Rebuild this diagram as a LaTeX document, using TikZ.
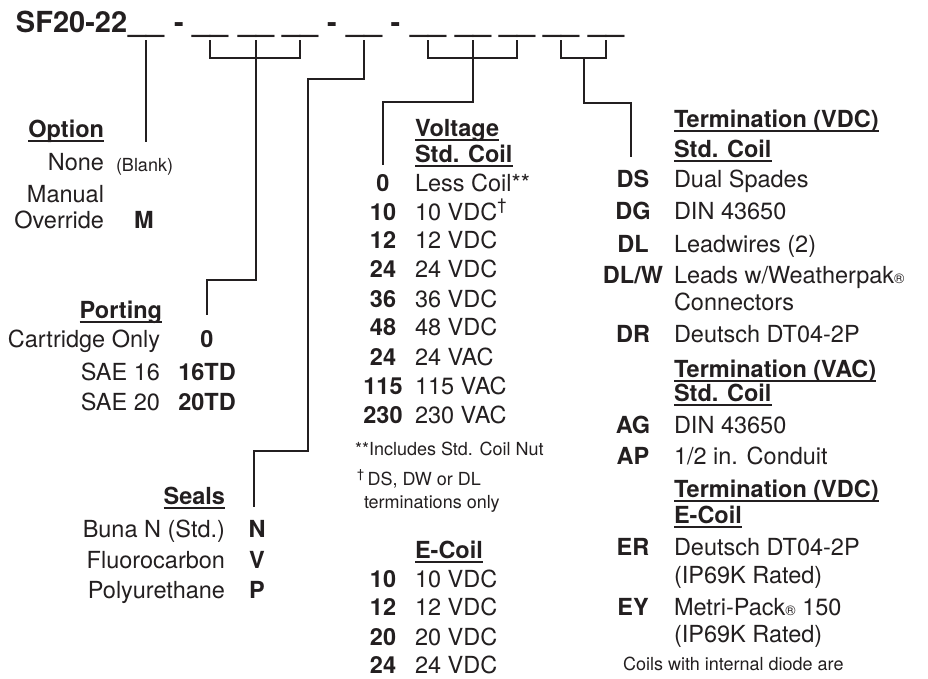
\documentclass[tikz,border=0pt]{standalone}
\usepackage{fontspec}
\setmainfont{TeX Gyre Heros}
\definecolor{ink}{HTML}{231F20}
\begin{document}
\begin{tikzpicture}[x=1pt,y=-1pt,
  every node/.style={inner sep=0pt,outer sep=0pt,text=ink},
  reg/.style={font=\fontsize{23.5}{28}\selectfont},
  hd/.style={font=\fontsize{23.5}{28}\selectfont\bfseries},
  code/.style={font=\fontsize{23.5}{28}\selectfont\bfseries,anchor=base},
  sm/.style={font=\fontsize{18}{21}\selectfont},
  ttl/.style={font=\fontsize{29}{34}\selectfont\bfseries},
  us/.style={font=\fontsize{32}{34}\selectfont\bfseries,anchor=base},
  L/.style={anchor=base west},
  R/.style={anchor=base east},
  wire/.style={draw=ink,line width=1.3pt},
  ul/.style={draw=ink,line width=1.3pt}]
\useasboundingbox[fill=white] (0,0) rectangle (928,678);

% ---------- model code ----------
\node[ttl,L] (title) at (16,32) {SF20-22};
\foreach \i/\x in {1/146,2/210,3/256,4/300,5/364,6/428,7/473,8/517,9/561,10/606}
  \node[us] (u\i) at (\x,31) {\_\_};
\node[ttl,anchor=base] (d1) at (179,32) {-};
\node[ttl,anchor=base] (d2) at (332,32) {-};
\node[ttl,anchor=base] (d3) at (395.5,32) {-};

\coordinate (top) at (0,40);
\coordinate (bar) at (0,58);

% ---------- Option ----------
\node[hd,R] (opt) at (104,137) {Option};
\draw[ul] ([yshift=-4pt]opt.base west) -- ([yshift=-4pt]opt.base east);
\node[reg,R] (o1) at (104,170) {None};
\node[sm,L] (o1b) at (116,171) {(Blank)};
\node[reg,R] (o2) at (104,202) {Manual};
\node[reg,R] (o3) at (104,228) {Override};
\node[code] (o3c) at (144,228) {M};
\draw[wire] (u1 |- top) -- (u1 |- opt.south);

% ---------- Porting ----------
\node[hd,R] (port) at (162,318) {Porting};
\draw[ul] ([yshift=-4pt]port.base west) -- ([yshift=-4pt]port.base east);
\node[reg,R] (p1) at (160,347) {Cartridge Only};
\node[code] (p1c) at (207,347) {0};
\node[reg,R] (p2) at (160,380) {SAE 16};
\node[code] (p2c) at (207,380) {16TD};
\node[reg,R] (p3) at (160,410) {SAE 20};
\node[code] (p3c) at (207,410) {20TD};
\coordinate (pEnd) at (207,315);
\draw[wire] (u2 |- top) -- (u2 |- bar) -- (u4 |- bar) -- (u4 |- top);
\draw[wire] (u3 |- top) -- (u3 |- 0,280) -- (pEnd |- 0,280) -- (pEnd);

% ---------- Seals ----------
\node[hd,R] (seal) at (225,504) {Seals};
\draw[ul] ([yshift=-4pt]seal.base west) -- ([yshift=-4pt]seal.base east);
\node[reg,R] (s1) at (225,537) {Buna N (Std.)};
\node[code] (s1c) at (257,537) {N};
\node[reg,R] (s2) at (225,568) {Fluorocarbon};
\node[code] (s2c) at (257,568) {V};
\node[reg,R] (s3) at (225,598) {Polyurethane};
\node[code] (s3c) at (257,598) {P};
\coordinate (sEnd) at (254,507);
\draw[wire] (u5 |- top) -- (u5 |- 0,79) -- (308,79) -- (308,451) -- (sEnd |- 0,451) -- (sEnd);

% ---------- Voltage ----------
\node[hd,L] (volt) at (415,136) {Voltage};
\draw[ul] ([yshift=-4pt]volt.base west) -- ([yshift=-4pt]volt.base east);
\node[hd,L] (vstd) at (415,162) {Std. Coil};
\draw[ul] ([yshift=-4pt]vstd.base west) -- ([yshift=-4pt]vstd.base east);
\foreach \i/\c/\t/\y in {1/0/{Less Coil**}/191,
    2/10/{10 VDC\textsuperscript{†}}/220,
    3/12/{12 VDC}/248, 4/24/{24 VDC}/277, 5/36/{36 VDC}/307,
    6/48/{48 VDC}/335, 7/24/{24 VAC}/365, 8/115/{115 VAC}/394,
    9/230/{230 VAC}/423}{
  \node[code] (vc\i) at (383,\y) {\c};
  \node[reg,L] (vt\i) at (415,\y) {\t};
}
\node[sm,L] (fn1) at (355,455) {**Includes Std. Coil Nut};
\node[sm,L] (fn2) at (357,485) {\textsuperscript{†}\,DS, DW or DL};
\node[sm,L] (fn3) at (364,508) {terminations only};
\coordinate (vEnd) at (383,165);
\draw[wire] (u6 |- top) -- (u6 |- bar) -- (u8 |- bar) -- (u8 |- top);
\draw[wire] (u7 |- top) -- (u7 |- 0,102) -- (vEnd |- 0,102) -- (vEnd);

% ---------- E-Coil ----------
\node[hd,L] (ecoil) at (415,558) {E-Coil};
\draw[ul] ([yshift=-4pt]ecoil.base west) -- ([yshift=-4pt]ecoil.base east);
\foreach \i/\c/\y in {1/10/587, 2/12/615, 3/20/645, 4/24/673}{
  \node[code] (ec\i) at (383,\y) {\c};
  \node[reg,L] (et\i) at (415,\y) {\c{} VDC};
}

% ---------- Termination ----------
\node[hd,L] (t1h) at (674,127) {Termination (VDC)\ };
\draw[ul] ([yshift=-4pt]t1h.base west) -- ([yshift=-4pt]t1h.base east);
\node[hd,L] (t1s) at (674,157) {Std. Coil};
\draw[ul] ([yshift=-4pt]t1s.base west) -- ([yshift=-4pt]t1s.base east);
\node[code] (tc1) at (633,187) {DS};
\node[reg,L] (tt1) at (674,187) {Dual Spades};
\node[code] (tc2) at (633,219) {DG};
\node[reg,L] (tt2) at (674,219) {DIN 43650};
\node[code] (tc3) at (633,252) {DL};
\node[reg,L] (tt3) at (674,252) {Leadwires (2)};
\node[code] (tc4) at (633,283) {DL/W};
\node[reg,L] (tt4) at (674,283) {Leads w/Weatherpak{\fontsize{14}{14}\selectfont ®}};
\node[reg,L] (tt4b) at (674,310) {Connectors};
\node[code] (tc5) at (633,342) {DR};
\node[reg,L] (tt5) at (674,342) {Deutsch DT04-2P};

\node[hd,L] (t2h) at (674,377) {Termination (VAC)\ };
\draw[ul] ([yshift=-4pt]t2h.base west) -- ([yshift=-4pt]t2h.base east);
\node[hd,L] (t2s) at (674,401) {Std. Coil\ };
\draw[ul] ([yshift=-4pt]t2s.base west) -- ([yshift=-4pt]t2s.base east);
\node[code] (tc6) at (633,433) {AG};
\node[reg,L] (tt6) at (674,433) {DIN 43650};
\node[code] (tc7) at (633,464) {AP};
\node[reg,L] (tt7) at (674,464) {1/2 in. Conduit};

\node[hd,L] (t3h) at (674,497) {Termination (VDC)\ };
\draw[ul] ([yshift=-4pt]t3h.base west) -- ([yshift=-4pt]t3h.base east);
\node[hd,L] (t3s) at (674,523) {E-Coil\ };
\draw[ul] ([yshift=-4pt]t3s.base west) -- ([yshift=-4pt]t3s.base east);
\node[code] (tc8) at (633,555) {ER};
\node[reg,L] (tt8) at (674,555) {Deutsch DT04-2P};
\node[reg,L] (tt8b) at (674,583) {(IP69K Rated)};
\node[code] (tc9) at (633,615) {EY};
\node[reg,L] (tt9) at (674,615) {Metri-Pack{\fontsize{14}{14}\selectfont ®} 150};
\node[reg,L] (tt9b) at (674,642) {(IP69K Rated)};
\node[sm,L] (tfn) at (623,670) {Coils with internal diode are};

\coordinate (tEnd) at (631,157);
\draw[wire] (u9 |- top) -- (u9 |- bar) -- (u10 |- bar) -- (u10 |- top);
\draw[wire] (584,58) -- (584,103) -- (tEnd |- 0,103) -- (tEnd);
\end{tikzpicture}
\end{document}
